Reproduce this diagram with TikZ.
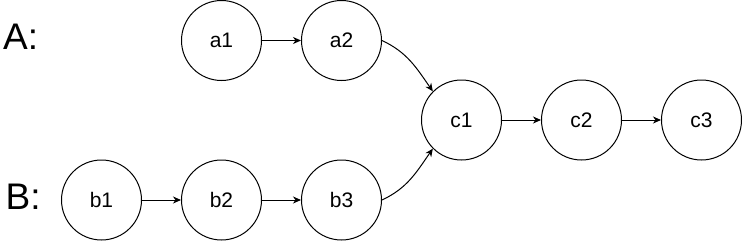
\documentclass[tikz,border=0pt]{standalone}
\usepackage{fontspec}
\setmainfont{Liberation Sans}
\usetikzlibrary{arrows.meta}
\begin{document}
\begin{tikzpicture}[x=1pt,y=-1pt,
  nd/.style={circle,draw,line width=1pt,minimum size=80pt,inner sep=0pt,font=\fontsize{21}{25}\selectfont},
  lbl/.style={anchor=west,inner sep=0pt,font=\fontsize{37}{44}\selectfont},
  arr/.style={line width=1pt,-{Stealth[length=8pt,width=7pt,inset=2.5pt]}}]
\useasboundingbox (0,0) rectangle (742,241);
\node[nd] (a1) at (221.5,40.5) {a1};
\node[nd] (a2) at (341.5,40.5) {a2};
\node[nd] (c1) at (461.5,120) {c1};
\node[nd] (c2) at (581.5,120) {c2};
\node[nd] (c3) at (701.5,120) {c3};
\node[nd] (b1) at (101.5,200) {b1};
\node[nd] (b2) at (221.5,200) {b2};
\node[nd] (b3) at (341.5,200) {b3};
\node[lbl] (la) at (3,37) {A:};
\node[lbl] (lb) at (5.5,197) {B:};
\draw[arr] (a1) -- (a2);
\draw[arr] (b1) -- (b2);
\draw[arr] (b2) -- (b3);
\draw[arr] (c1) -- (c2);
\draw[arr] (c2) -- (c3);
\draw[arr] (a2.east) to[out=-25,in=125] (c1.135);
\draw[arr] (b3.east) to[out=25,in=-125] (c1.-135);
\end{tikzpicture}
\end{document}
